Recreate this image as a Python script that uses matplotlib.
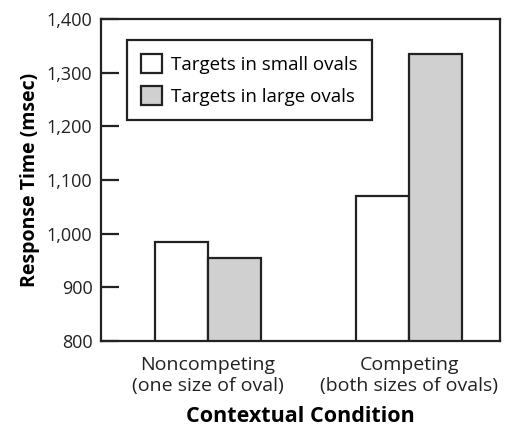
import numpy as np
import matplotlib.pyplot as plt
from matplotlib.ticker import FuncFormatter

plt.rcParams['font.family'] = ['Open Sans', 'DejaVu Sans']

conditions = ['Noncompeting\n(one size of oval)', 'Competing\n(both sizes of ovals)']
small_ovals = [985, 1071]
large_ovals = [955, 1336]
labels = ['Targets in small ovals', 'Targets in large ovals']

xpos = np.arange(len(conditions))
width = 0.264

fig = plt.figure(figsize=(5.12, 4.36), dpi=100)
ax = fig.add_axes([0.197, 0.218, 0.78, 0.738])

ax.bar(xpos - width / 2, small_ovals, width, color='white',
       edgecolor='#222222', linewidth=1.6, label=labels[0])
ax.bar(xpos + width / 2, large_ovals, width, color='#cfd0cf',
       edgecolor='#222222', linewidth=1.6, label=labels[1])

ax.set_ylim(800, 1400)
ax.set_xlim(-0.532, 1.453)
ax.set_yticks(range(800, 1401, 100))
ax.yaxis.set_major_formatter(FuncFormatter(lambda v, p: '{:,}'.format(int(v))))
ax.set_xticks(xpos)
ax.set_xticklabels(conditions, fontsize=14, color='#222222', linespacing=1.2)
ax.tick_params(axis='x', length=0, pad=11)
ax.tick_params(axis='y', direction='in', length=13, width=1.6,
               labelsize=13, color='#222222', labelcolor='#222222', pad=6)
for s in ax.spines.values():
    s.set_linewidth(1.6)
    s.set_color('#222222')

ax.set_ylabel('Response Time (msec)', fontsize=14, fontweight='bold', labelpad=5)
ax.set_xlabel('Contextual Condition', fontsize=15.5, fontweight='bold', labelpad=8)

leg = ax.legend(loc='upper left', bbox_to_anchor=(0.065, 0.935), fontsize=13.5,
                fancybox=False, edgecolor='#222222', framealpha=1,
                handlelength=1.15, handleheight=1.15, borderpad=0.75,
                labelspacing=0.65, handletextpad=0.45, borderaxespad=0)
leg.get_frame().set_linewidth(1.6)

plt.savefig('out.png', dpi=100)
